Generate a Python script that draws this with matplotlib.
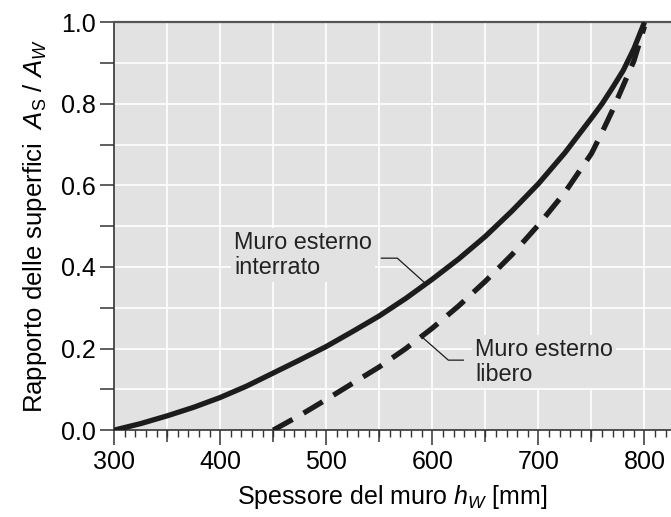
import matplotlib.pyplot as plt
import numpy as np

plt.rcParams['font.family'] = ['Liberation Sans', 'DejaVu Sans']
plt.rcParams['mathtext.fontset'] = 'custom'
plt.rcParams['mathtext.rm'] = 'Liberation Sans'
plt.rcParams['mathtext.it'] = 'Liberation Sans:italic'

# valori
h_interrato = [300, 325, 350, 375, 400, 425, 450, 475, 500, 525, 550,
               575, 600, 625, 650, 675, 700, 725, 750, 760, 770, 780, 790, 800]
r_interrato = [0.0, 0.016, 0.035, 0.056, 0.08, 0.108, 0.14, 0.172, 0.205,
               0.242, 0.28, 0.323, 0.37, 0.42, 0.475, 0.537, 0.604, 0.68,
               0.765, 0.8, 0.84, 0.882, 0.935, 1.0]

h_libero = [450, 475, 500, 525, 550, 575, 600, 625, 650, 675, 700, 725,
            750, 760, 770, 780, 790, 800]
r_libero = [0.0, 0.036, 0.075, 0.115, 0.155, 0.2, 0.25, 0.305, 0.365,
            0.43, 0.503, 0.583, 0.678, 0.73, 0.785, 0.845, 0.905, 0.99]

lab_interrato = 'Muro esterno\ninterrato'
lab_libero = 'Muro esterno\nlibero'

bg = '#e2e2e2'
ink = '#1c1c1c'

fig = plt.figure(figsize=(6.71, 5.17), dpi=100)
ax = fig.add_axes([0.170, 0.168, 0.830, 0.789])
ax.set_facecolor(bg)

ax.set_xlim(300, 825)
ax.set_ylim(0, 1.0)

# griglia bianca
ax.set_xticks(np.arange(300, 801, 100))
ax.set_xticks(np.arange(300, 826, 10), minor=True)
ax.set_yticks(np.arange(0, 1.01, 0.2))
ax.set_yticks(np.arange(0.1, 1.0, 0.2), minor=True)
for xg in np.arange(350, 826, 50):
    ax.axvline(xg, color='white', lw=1.2, zorder=0.5)
for yg in np.arange(0.1, 1.0, 0.1):
    ax.axhline(yg, color='white', lw=1.2, zorder=0.5)

ax.plot(h_interrato, r_interrato, color=ink, lw=3.8, solid_capstyle='butt',
        solid_joinstyle='round', zorder=3)
ax.plot(h_libero, r_libero, color=ink, lw=3.8, dashes=(4.2, 2.4), zorder=3)

# etichette con linee di richiamo
tbox = dict(facecolor=bg, edgecolor='none', pad=2)
ax.text(413, 0.43, lab_interrato, fontsize=16.8, ha='left', va='center',
        linespacing=1.12, color='#222222', bbox=tbox, zorder=4)
ax.plot([552, 567, 593.4], [0.4216, 0.4216, 0.360], color=ink, lw=0.9, zorder=4)
ax.text(640.5, 0.168, lab_libero, fontsize=16.8, ha='left', va='center',
        linespacing=1.12, color='#222222', bbox=tbox, zorder=4)
ax.plot([629.2, 615.1, 591.5], [0.1716, 0.1716, 0.2255], color=ink, lw=0.9, zorder=4)

ax.yaxis.set_major_formatter(plt.FormatStrFormatter('%.1f'))

for s in ['left', 'bottom']:
    ax.spines[s].set_color('#333333')
    ax.spines[s].set_linewidth(1.2)
ax.spines['top'].set_color('#555555')
ax.spines['top'].set_linewidth(1.6)
ax.spines['right'].set_visible(False)

ax.tick_params(axis='x', which='major', length=11, width=1.1, color='#333333',
               labelsize=18, pad=3)
ax.tick_params(axis='x', which='minor', length=5, width=1.0, color='#333333')
ax.tick_params(axis='y', which='both', length=10, width=1.1, color='#333333',
               labelsize=18, pad=3)

# tacche intermedie a 50 mm
sec = ax.secondary_xaxis('bottom')
sec.set_xticks(np.arange(350, 826, 100))
sec.set_xticklabels([])
sec.tick_params(length=8.5, width=1.1, color='#333333')
sec.spines['bottom'].set_visible(False)

ax.set_xlabel('Spessore del muro $h_W$ [mm]', fontsize=18, labelpad=7)
ax.set_ylabel('Rapporto delle superfici  $A_\\mathrm{S}$ / $A_W$', fontsize=18.5,
              labelpad=9)

fig.savefig('out.png', dpi=100)
